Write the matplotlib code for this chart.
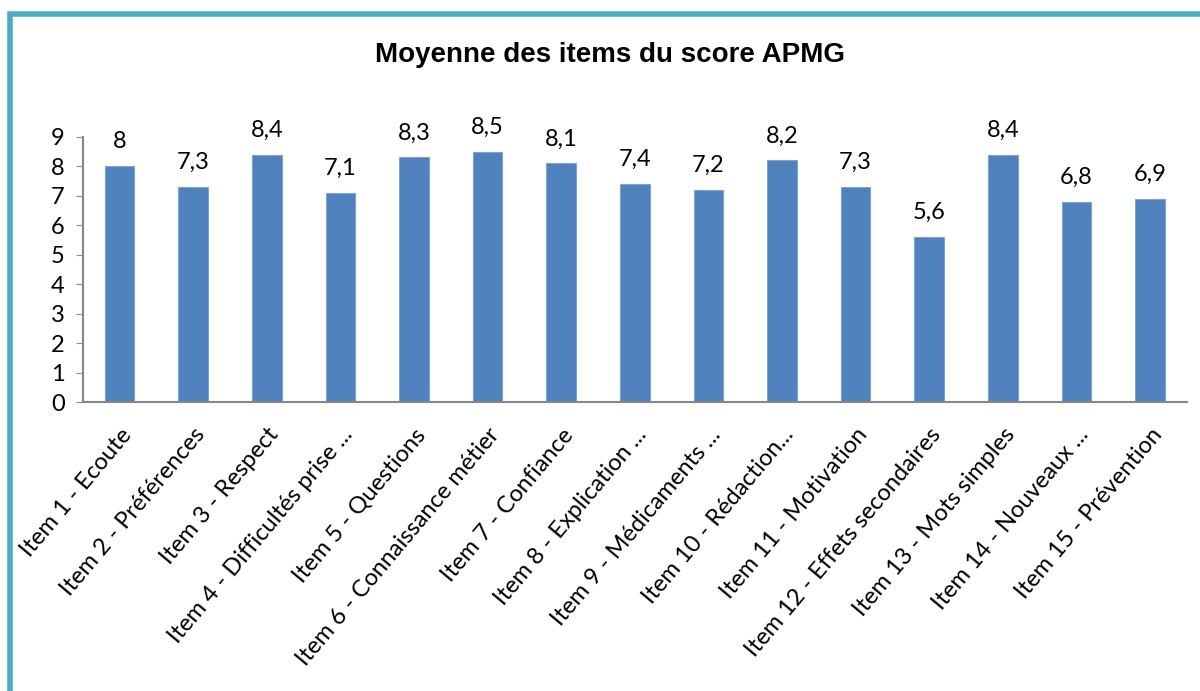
import numpy as np
import matplotlib as mpl
mpl.use('Agg')
import matplotlib.pyplot as pl
from matplotlib.patches import Rectangle

items = ['Item 1 - Ecoute', 'Item 2 - Préférences', 'Item 3 - Respect',
         'Item 4 - Difficultés prise ...', 'Item 5 - Questions',
         'Item 6 - Connaissance métier', 'Item 7 - Confiance',
         'Item 8 - Explication ...', 'Item 9 - Médicaments ...',
         'Item 10 - Rédaction...', 'Item 11 - Motivation',
         'Item 12 - Effets secondaires', 'Item 13 - Mots simples',
         'Item 14 - Nouveaux ...', 'Item 15 - Prévention']
scores = [8, 7.3, 8.4, 7.1, 8.3, 8.5, 8.1, 7.4, 7.2, 8.2, 7.3, 5.6, 8.4, 6.8, 6.9]
yticks = list(range(0, 10))

pl.rcParams['font.family'] = ['Lato', 'DejaVu Sans']

f = pl.figure(figsize=(12, 6.91), dpi=100)
# teal frame, cut off at right and bottom
f.patches.append(Rectangle((0.0085, -0.05), 1.1, 1.03, transform=f.transFigure,
                           fill=False, edgecolor='#4BACC6', linewidth=4))

ax = f.add_axes([0.069, 0.418, 0.92, 0.384])
x = np.arange(len(scores))
bars = ax.bar(x, scores, width=0.4, color='#4F81BD', edgecolor='#7FA3D3', linewidth=0.8)
for xi, v in zip(x, scores):
    lab = ('%g' % v).replace('.', ',')
    ax.annotate(lab, (xi, v), xytext=(0, 10), textcoords='offset points',
                ha='center', va='bottom', fontsize=17)

ax.set_xlim(-0.5, len(scores) - 0.5)
ax.set_ylim(0, 9)
ax.set_yticks(yticks)
ax.set_yticklabels([str(t) for t in yticks], fontsize=17)
ax.set_xticks(x)
ax.set_xticklabels(items, rotation=50, ha='right', rotation_mode='anchor', fontsize=17)
ax.tick_params(axis='x', length=0, pad=16)
ax.tick_params(axis='y', length=5, color='#868686', pad=8)
for s in ['top', 'right']:
    ax.spines[s].set_visible(False)
for s in ['left', 'bottom']:
    ax.spines[s].set_color('#868686')
    ax.spines[s].set_linewidth(1.5)

f.text(0.508, 0.92, 'Moyenne des items du score APMG', ha='center', va='center',
       fontsize=20, fontweight='bold', family=['Liberation Sans Narrow', 'Liberation Sans', 'DejaVu Sans'])

f.savefig('out.png', dpi=100)
